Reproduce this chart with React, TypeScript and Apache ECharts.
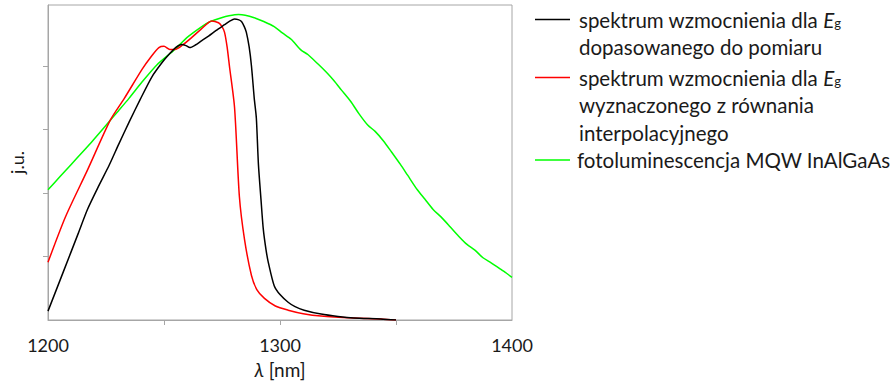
import React, { useEffect, useRef } from "react";
import * as echarts from "echarts";

// Black: gain spectrum for Eg fitted to measurement
const blackLambda = [1200, 1206.3, 1213, 1217, 1221.7, 1226.4, 1230.5, 1235, 1239.7, 1244.8, 1249.1, 1252.1, 1255, 1257.7, 1259.5, 1261.1, 1263.5, 1266.3, 1269.2, 1272.5, 1276.1, 1278.5, 1280.4, 1282, 1283.4, 1284.6, 1285.5, 1286.7, 1287.7, 1288.9, 1289.8, 1290.7, 1291.8, 1292.8, 1294, 1295, 1297.5, 1300, 1303.5, 1306.5, 1310.4, 1317.7, 1325, 1331.8, 1343.4, 1350];
const blackGain = [0.14, 0.73, 1.36, 1.74, 2.1, 2.44, 2.77, 3.12, 3.47, 3.83, 4.05, 4.18, 4.29, 4.34, 4.32, 4.29, 4.33, 4.4, 4.47, 4.56, 4.65, 4.71, 4.74, 4.73, 4.7, 4.62, 4.53, 4.3, 4.0, 3.49, 3.18, 2.45, 1.9, 1.43, 1.1, 0.9, 0.54, 0.4, 0.28, 0.21, 0.155, 0.093, 0.055, 0.031, 0.016, 0.0];

// Red: gain spectrum for Eg from interpolation equation
const redLambda = [1200, 1207.6, 1217, 1226.9, 1232.9, 1240.6, 1244.5, 1247.8, 1250, 1252.5, 1254.7, 1258, 1262, 1266, 1270.5, 1273.5, 1275, 1276.1, 1277.2, 1278.2, 1280.4, 1282.5, 1284.7, 1287.7, 1290, 1293.3, 1298, 1303.5, 1310, 1317.7, 1331.8, 1343.4, 1350];
const redGain = [0.91, 1.63, 2.36, 3.15, 3.49, 3.95, 4.15, 4.29, 4.31, 4.26, 4.26, 4.33, 4.45, 4.58, 4.71, 4.68, 4.62, 4.53, 4.3, 4.0, 3.35, 1.94, 1.27, 0.7, 0.48, 0.34, 0.22, 0.155, 0.1, 0.062, 0.031, 0.016, 0.0];

// Green: photoluminescence MQW InAlGaAs
const greenLambda = [1200, 1205, 1210, 1215, 1219.2, 1223, 1226.5, 1230.5, 1234.9, 1240.6, 1247, 1254.7, 1260, 1266.3, 1270, 1274.8, 1278, 1282.1, 1285, 1288.9, 1293, 1297.5, 1301, 1304.8, 1309.1, 1312, 1316.4, 1320, 1323.2, 1326.5, 1330.5, 1334, 1337.8, 1341, 1344.6, 1348, 1351.9, 1355, 1359.2, 1362.5, 1366, 1369.5, 1373.3, 1377, 1380.6, 1384, 1387.5, 1391, 1394.7, 1397.5, 1400];
const greenPL = [2.05, 2.25, 2.45, 2.65, 2.82, 2.98, 3.13, 3.3, 3.49, 3.75, 4.02, 4.26, 4.45, 4.62, 4.7, 4.76, 4.79, 4.81, 4.8, 4.76, 4.7, 4.62, 4.52, 4.42, 4.25, 4.18, 4.03, 3.9, 3.77, 3.62, 3.44, 3.25, 3.07, 2.97, 2.82, 2.65, 2.45, 2.28, 2.05, 1.9, 1.74, 1.62, 1.47, 1.32, 1.19, 1.1, 0.98, 0.9, 0.81, 0.74, 0.67];

const seriesNames = [
  "spektrum wzmocnienia dla Eg dopasowanego do pomiaru",
  "spektrum wzmocnienia dla Eg wyznaczonego z równania interpolacyjnego",
  "fotoluminescencja MQW InAlGaAs",
];
const legendLabels = [
  "spektrum wzmocnienia dla {i|E}{sub|g}\ndopasowanego do pomiaru",
  "spektrum wzmocnienia dla {i|E}{sub|g}\nwyznaczonego z równania\ninterpolacyjnego",
  "fotoluminescencja MQW InAlGaAs",
];
const legendLines = [2, 3, 1];
const legendIconY = [19.5, 77.5, 160];
const seriesColors = ["#000000", "#ff0000", "#00ff00"];
const xLabelValues = [1200, 1300, 1400];
const xTickValues = [1250, 1300, 1350];
const yTickValues = [1, 2, 3, 4];

const FONT = "Lato";
const FS = 20.5;
const LH = 27.5;
const TXT = "#1a1a1a";

function pairs(xs: number[], ys: number[]) {
  return xs.map((x, i) => [x, ys[i]]);
}

export default function App() {
  const ref = useRef<HTMLDivElement>(null);
  useEffect(() => {
    if (!ref.current) return;
    const chart = echarts.init(ref.current, null, { renderer: "svg" });
    const datasets = [
      pairs(blackLambda, blackGain),
      pairs(redLambda, redGain),
      pairs(greenLambda, greenPL),
    ];
    const textPadLeft = [4, 4, 2];
    const rich = {
      i: { fontStyle: "italic", fontSize: FS, fontFamily: FONT, color: TXT, lineHeight: LH },
      sub: { fontSize: 13, fontFamily: FONT, color: TXT, lineHeight: LH, padding: [7, 0, 0, 0] },
    };
    chart.setOption({
      animation: false,
      backgroundColor: "#ffffff",
      textStyle: { fontFamily: FONT },
      grid: { left: 45, right: 380, top: 5, bottom: 59, show: true, borderColor: "#a6a6a6", borderWidth: 1, backgroundColor: "transparent" },
      legend: seriesNames.map((name, k) => {
        const n = legendLines[k];
        const boxH = (2 * n - 1) * LH;
        return {
          data: [name],
          left: 535,
          top: legendIconY[k] - boxH / 2,
          orient: "vertical",
          padding: 0,
          icon: "rect",
          itemWidth: 35,
          itemHeight: 1.5,
          selectedMode: false,
          formatter: () => legendLabels[k],
          textStyle: {
            fontFamily: FONT,
            fontSize: FS,
            color: TXT,
            lineHeight: LH,
            padding: [(n - 1) * LH, 0, 0, textPadLeft[k]],
            rich,
          },
        };
      }),
      xAxis: {
        type: "value",
        min: 1200,
        max: 1400,
        interval: 50,
        name: "{i|λ} [nm]",
        nameLocation: "middle",
        nameGap: 40,
        nameTextStyle: {
          fontFamily: FONT,
          fontSize: 19,
          color: TXT,
          rich: { i: { fontStyle: "italic", fontFamily: FONT, fontSize: 19, color: TXT } },
        },
        axisLine: { show: true, lineStyle: { color: "#a6a6a6", width: 1 } },
        axisTick: { show: true, length: 5, customValues: xTickValues, lineStyle: { color: "#a6a6a6" } },
        axisLabel: {
          customValues: xLabelValues,
          formatter: (v: number) => String(v),
          fontFamily: FONT,
          fontSize: 18,
          color: TXT,
          margin: 16,
        },
        splitLine: { show: false },
      },
      yAxis: {
        type: "value",
        min: 0,
        max: 4.96,
        interval: 1,
        name: "j.u.",
        nameLocation: "middle",
        nameGap: 22,
        nameTextStyle: { fontFamily: FONT, fontSize: 18, color: TXT },
        axisLine: { show: true, lineStyle: { color: "#a6a6a6", width: 1 } },
        axisTick: { show: true, length: 5, customValues: yTickValues, lineStyle: { color: "#a6a6a6" } },
        axisLabel: { show: false },
        splitLine: { show: false },
      },
      series: seriesNames.map((name, k) => ({
        name,
        type: "line",
        data: datasets[k],
        symbol: "none",
        smooth: 0.25,
        color: seriesColors[k],
        lineStyle: { color: seriesColors[k], width: 1.5 },
        z: 3 - k,
      })),
    });
    return () => chart.dispose();
  }, []);
  return (
    <div
      ref={ref}
      style={{ position: "fixed", left: 0, top: 0, width: 892, height: 384, background: "#fff" }}
    />
  );
}
